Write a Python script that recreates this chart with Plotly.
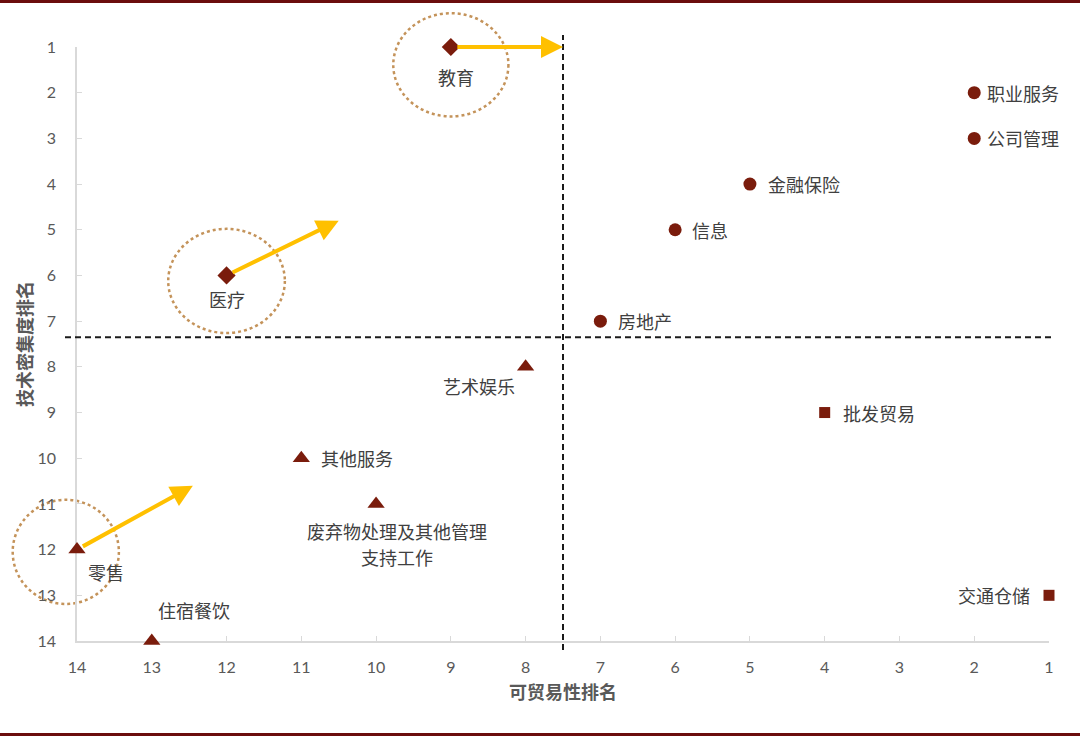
import plotly.graph_objects as go

# ---- data ----
industries = ["职业服务", "公司管理", "金融保险", "信息", "房地产",
              "艺术娱乐", "其他服务", "废弃物处理及其他管理<br>支持工作", "零售", "住宿餐饮",
              "批发贸易", "交通仓储", "教育", "医疗"]
tradability_rank = [2, 2, 5, 6, 7, 8, 11, 10, 14, 13, 4, 1, 9, 12]
tech_rank = [2, 3, 4, 5, 7, 8, 10, 11, 12, 14, 9, 13, 1, 6]
group = ["circle", "circle", "circle", "circle", "circle",
         "triangle", "triangle", "triangle", "triangle", "triangle",
         "square", "square", "diamond", "diamond"]

# arrows (from industry to target position)
arrow_from = ["教育", "医疗", "零售"]
arrow_to_x = [7.5, 10.5, 12.45]
arrow_to_y = [1.0, 4.8, 10.6]

# highlight ellipses (center x, center y, radius x, radius y) in rank units
circle_cx = [9.0, 12.0, 14.15]
circle_cy = [1.39, 6.12, 12.05]
circle_rx = [0.77, 0.78, 0.71]
circle_ry = [1.13, 1.14, 1.14]

# quadrant dividers
div_x = 7.5
div_y = 7.35

x_ticks = list(range(1, 15))
y_ticks = list(range(1, 15))

# ---- styling ----
MARK = "#7a1c0c"
XMIN, XMAX = 1, 14
YMIN, YMAX = 1, 14
L, R, T, B = 77, 31, 47, 96
W, H = 1080, 737
PW = W - L - R
PH = H - T - B

def px(xv):  # data x -> paper x (reversed axis)
    return (XMAX - xv) / (XMAX - XMIN)

def py(yv):  # data y -> paper y (reversed axis, 1 at top)
    return (YMAX - yv) / (YMAX - YMIN)

def ppx(pix):
    return (pix - L) / PW

def ppy(pix):
    return (H - B - pix) / PH

symbols = {"circle": ("circle", 13), "triangle": ("triangle-up", 15),
           "square": ("square", 11), "diamond": ("diamond", 14)}

fig = go.Figure()
for g in ["circle", "triangle", "square", "diamond"]:
    xs = [x for x, gg in zip(tradability_rank, group) if gg == g]
    ys = [y for y, gg in zip(tech_rank, group) if gg == g]
    sym, sz = symbols[g]
    fig.add_trace(go.Scatter(x=xs, y=ys, mode="markers", cliponaxis=False,
                             marker=dict(symbol=sym, size=sz, color=MARK, line=dict(width=0)),
                             showlegend=False, hoverinfo="skip"))

# label offsets (px): (xshift, yshift, xanchor)
label_style = {
    "职业服务": (11, 0, "left"), "公司管理": (11, 0, "left"), "金融保险": (16, 0, "left"),
    "信息": (15, 0, "left"), "房地产": (16, 0, "left"), "批发贸易": (16, 0, "left"),
    "其他服务": (18, 0, "left"), "交通仓储": (-17, 0, "right"),
    "艺术娱乐": (-47, -19, "center"), "废弃物处理及其他管理<br>支持工作": (21, -27, "center"),
    "零售": (29, -22, "center"), "住宿餐饮": (42, 31, "center"),
    "教育": (5, -30, "center"), "医疗": (0, -24, "center"),
}
LINE_GAP = 26
annotations = []
for name, xv, yv in zip(industries, tradability_rank, tech_rank):
    xs_, ys_, xa = label_style[name]
    for k, line in enumerate(name.split("<br>")):
        annotations.append(dict(x=xv, y=yv, xref="x", yref="y", text=line, showarrow=False,
                                xshift=xs_, yshift=ys_ - k * LINE_GAP, xanchor=xa, yanchor="middle",
                                font=dict(family="Noto Sans CJK SC", size=18, color="#404040"),
                                align="center"))

for name, tx, ty in zip(arrow_from, arrow_to_x, arrow_to_y):
    i = industries.index(name)
    annotations.append(dict(x=tx, y=ty, xref="x", yref="y",
                            ax=tradability_rank[i], ay=tech_rank[i], axref="x", ayref="y",
                            text="", showarrow=True, arrowhead=2, arrowsize=1.1,
                            arrowwidth=4, arrowcolor="#FFC000", standoff=0, startstandoff=5))

shapes = []
for cx, cy, rx, ry in zip(circle_cx, circle_cy, circle_rx, circle_ry):
    shapes.append(dict(type="circle", xref="paper", yref="paper",
                       x0=px(cx + rx), x1=px(cx - rx), y0=py(cy + ry), y1=py(cy - ry),
                       line=dict(color="#c4935a", width=2.5, dash="dot"), layer="below"))
# quadrant dashed lines
shapes.append(dict(type="line", xref="paper", yref="paper", x0=px(div_x), x1=px(div_x),
                   y0=ppy(650), y1=ppy(35), line=dict(color="#1a1a1a", width=2, dash="6px,4px")))
shapes.append(dict(type="line", xref="paper", yref="paper", x0=ppx(65), x1=ppx(1052),
                   y0=py(div_y), y1=py(div_y), line=dict(color="#1a1a1a", width=2, dash="6px,4px")))
# top/bottom frame lines
shapes.append(dict(type="line", xref="paper", yref="paper", x0=ppx(0), x1=ppx(W),
                   y0=ppy(1.5), y1=ppy(1.5), line=dict(color="#6b0d0d", width=3)))
shapes.append(dict(type="line", xref="paper", yref="paper", x0=ppx(0), x1=ppx(W),
                   y0=ppy(734.5), y1=ppy(734.5), line=dict(color="#6b0d0d", width=3)))

axis_common = dict(showgrid=False, zeroline=False, showline=True, linecolor="#d9d9d9",
                   linewidth=1.5, ticks="inside", ticklen=5, tickcolor="#d9d9d9",
                   layer="below traces",
                   tickfont=dict(family="Lato", size=16, color="#595959"))

fig.update_layout(
    width=W, height=H, margin=dict(l=L, r=R, t=T, b=B, pad=0),
    paper_bgcolor="white", plot_bgcolor="white",
    xaxis=dict(range=[XMAX, XMIN], tickvals=x_ticks, ticklabelstandoff=11,
               title=dict(text="可贸易性排名", standoff=11,
                          font=dict(family="Noto Sans CJK SC", size=18, color="#595959", weight="bold")),
               **axis_common),
    yaxis=dict(range=[YMAX, YMIN], tickvals=y_ticks, ticklabelstandoff=16,
               title=dict(text="技术密集度排名", standoff=0,
                          font=dict(family="Noto Sans CJK SC", size=18, color="#595959", weight="bold")),
               **axis_common),
    annotations=annotations, shapes=shapes,
)

fig.write_html("out.html")
